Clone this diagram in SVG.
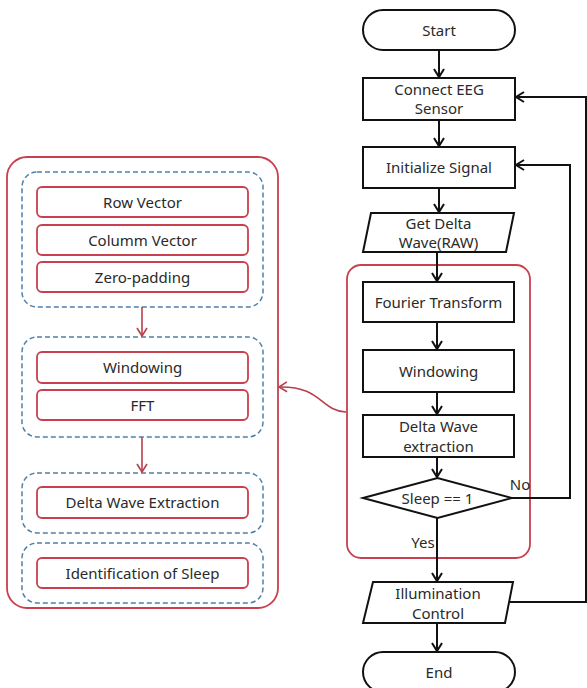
<svg xmlns="http://www.w3.org/2000/svg" width="587" height="688" viewBox="0 0 587 688">
<defs>
<marker id="ah" markerWidth="12" markerHeight="12" refX="10" refY="6" orient="auto" markerUnits="userSpaceOnUse">
<path d="M2,1 L10,6 L2,11" fill="none" stroke="#111" stroke-width="2"/>
</marker>
<marker id="ahr" markerWidth="12" markerHeight="12" refX="10" refY="6" orient="auto" markerUnits="userSpaceOnUse">
<path d="M2,1 L10,6 L2,11" fill="none" stroke="#b8404d" stroke-width="1.6"/>
</marker>
</defs>
<style>
.n{fill:#fff;stroke:#111;stroke-width:2}
.t{font-family:"Noto Sans","Open Sans",sans-serif;font-size:15px;fill:#2a2a2a;text-anchor:middle}
.rb{fill:#fff;stroke:#c8404d;stroke-width:1.8}
.bd{fill:none;stroke:#4f7fa8;stroke-width:1.5;stroke-dasharray:5,3}
.c{fill:none;stroke:#111;stroke-width:2}
.cr{fill:none;stroke:#b8404d;stroke-width:1.6}
</style>
<rect width="587" height="688" fill="#fff"/>

<!-- left panel -->
<g id="panel">
<rect x="7" y="157" width="271" height="451" rx="20" fill="none" stroke="#c8404d" stroke-width="1.8"/>
</g>
<g id="group1">
<rect class="bd" x="22" y="172" width="241" height="135" rx="15"/>
</g>
<g id="rowvec"><rect class="rb" x="37" y="187" width="211" height="30" rx="5"/><text class="t" x="142.5" y="207.5">Row Vector</text></g>
<g id="colvec"><rect class="rb" x="37" y="225" width="211" height="30" rx="5"/><text class="t" x="142.5" y="245.5">Columm Vector</text></g>
<g id="zeropad"><rect class="rb" x="37" y="262" width="211" height="30" rx="5"/><text class="t" x="142.5" y="282.5">Zero-padding</text></g>
<g id="group2">
<rect class="bd" x="22" y="337" width="241" height="100" rx="15"/>
</g>
<g id="lwindowing"><rect class="rb" x="37" y="352" width="211" height="31" rx="5"/><text class="t" x="142.5" y="373">Windowing</text></g>
<g id="fft"><rect class="rb" x="37" y="390" width="211" height="30" rx="5"/><text class="t" x="142.5" y="410.5">FFT</text></g>
<g id="group3">
<rect class="bd" x="22" y="473" width="241" height="60" rx="15"/>
</g>
<g id="dwe"><rect class="rb" x="37" y="487" width="211" height="31" rx="5"/><text class="t" x="142.5" y="508">Delta Wave Extraction</text></g>
<g id="group4">
<rect class="bd" x="22" y="543" width="241" height="60" rx="15"/>
</g>
<g id="ios"><rect class="rb" x="37" y="558" width="211" height="30" rx="5"/><text class="t" x="142.5" y="578.5">Identification of Sleep</text></g>

<!-- red container -->
<g id="container">
<rect x="347" y="265" width="183" height="293" rx="14" fill="none" stroke="#c8404d" stroke-width="1.8"/>
</g>

<!-- right flowchart nodes -->
<g id="start"><rect class="n" x="363" y="10" width="152" height="40" rx="20"/><text class="t" x="439" y="35.5">Start</text></g>
<g id="connect"><rect class="n" x="363" y="78" width="152" height="42"/><text class="t" x="439" y="95">Connect EEG</text><text class="t" x="439" y="114">Sensor</text></g>
<g id="init"><rect class="n" x="363" y="147" width="152" height="41"/><text class="t" x="439" y="173">Initialize Signal</text></g>
<g id="getdelta"><polygon class="n" points="371,213 514,213 506,252 363,252"/><text class="t" x="438.5" y="229">Get Delta</text><text class="t" x="438.5" y="247.5">Wave(RAW)</text></g>
<g id="fourier"><rect class="n" x="363" y="282" width="151" height="40"/><text class="t" x="438.5" y="307.5">Fourier Transform</text></g>
<g id="windowing"><rect class="n" x="363" y="350" width="151" height="42"/><text class="t" x="438.5" y="376.5">Windowing</text></g>
<g id="dwext"><rect class="n" x="363" y="415" width="151" height="42"/><text class="t" x="438.5" y="432">Delta Wave</text><text class="t" x="438.5" y="451.5">extraction</text></g>
<g id="sleep"><polygon class="n" points="363,498 437.5,478 512,498 437.5,518"/><text class="t" x="437.5" y="503.5">Sleep == 1</text></g>
<g id="illum"><polygon class="n" points="373,582 513,582 505,623 363,623"/><text class="t" x="438" y="599">Illumination</text><text class="t" x="438" y="618.5">Control</text></g>
<g id="end"><rect class="n" x="363" y="652" width="152" height="40" rx="20"/><text class="t" x="439" y="677.5">End</text></g>

<!-- connectors -->
<g id="connectors">
<line class="c" x1="439" y1="50" x2="439" y2="77" marker-end="url(#ah)"/>
<line class="c" x1="439" y1="120" x2="439" y2="146" marker-end="url(#ah)"/>
<line class="c" x1="439" y1="188" x2="439" y2="212" marker-end="url(#ah)"/>
<line class="c" x1="437" y1="252" x2="437" y2="281" marker-end="url(#ah)"/>
<line class="c" x1="437" y1="322" x2="437" y2="349" marker-end="url(#ah)"/>
<line class="c" x1="437" y1="392" x2="437" y2="414" marker-end="url(#ah)"/>
<line class="c" x1="437" y1="457" x2="437" y2="477" marker-end="url(#ah)"/>
<line class="c" x1="437" y1="518" x2="437" y2="581" marker-end="url(#ah)"/>
<line class="c" x1="437" y1="623" x2="437" y2="651" marker-end="url(#ah)"/>
<polyline class="c" points="512,498 570,498 570,165 516,165" marker-end="url(#ah)"/>
<polyline class="c" points="509,602 586,602 586,97 516,97" marker-end="url(#ah)"/>
<line class="cr" x1="142" y1="307" x2="142" y2="336" marker-end="url(#ahr)"/>
<line class="cr" x1="142" y1="437" x2="142" y2="472" marker-end="url(#ahr)"/>
<path class="cr" d="M346,412 C320,411 322,386 279,387" marker-end="url(#ahr)"/>
<text class="t" x="520" y="490">No</text>
<text class="t" x="423" y="548">Yes</text>
</g>
</svg>
